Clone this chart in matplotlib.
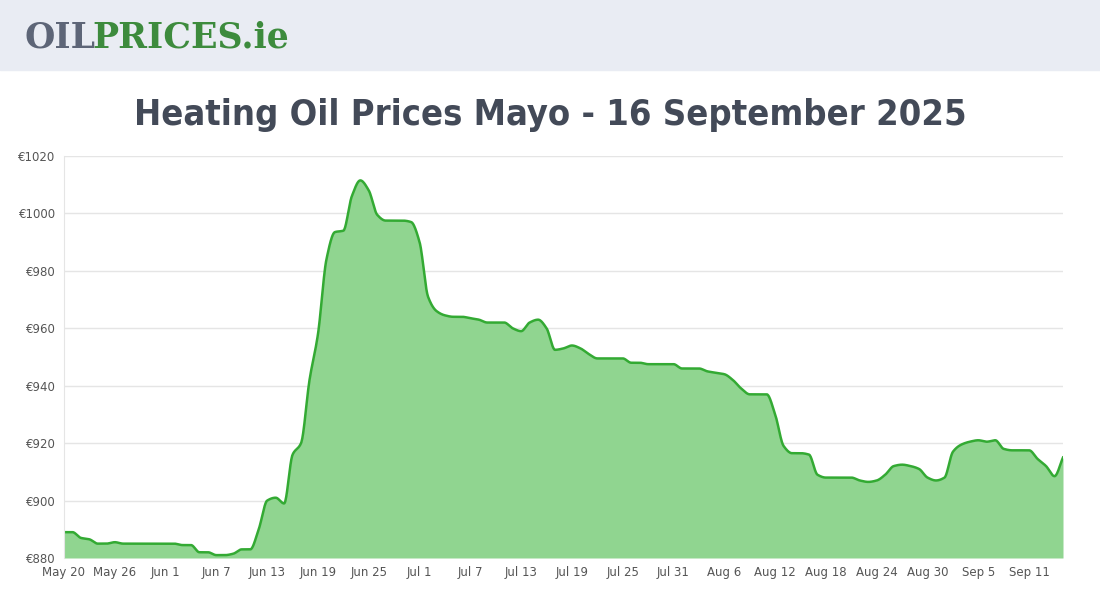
import numpy as np
import pandas as pd
from matplotlib import pyplot as plt

# ######### Data #########
start_date = "2025-05-20"
prices = [889, 889, 887, 886.5, 885, 885, 885.5, 885, 885, 885, 885, 885, 885, 885,
          884.5, 884.5, 882, 882, 881, 881, 881.5, 883, 883, 890, 900, 901, 899, 916,
          920, 942, 958, 984, 993.5, 994, 1006, 1011.5, 1008, 999.5, 997.5, 997.5,
          997.5, 997, 990, 971, 966, 964.5, 964, 964, 963.5, 963, 962, 962, 962, 960,
          959, 962, 963, 960, 952.5, 953, 954, 953, 951, 949.5, 949.5, 949.5, 949.5,
          948, 948, 947.5, 947.5, 947.5, 947.5, 946, 946, 946, 945, 944.5, 944, 942,
          939, 937, 937, 937, 930, 919, 916.5, 916.5, 916, 909, 908, 908, 908, 908,
          907, 906.5, 907, 909, 912, 912.5, 912, 911, 908, 907, 908, 917, 919.5,
          920.5, 921, 920.5, 921, 918, 917.5, 917.5, 917.5, 914.5, 912, 908.5, 915]
tick_labels = ["May 20", "May 26", "Jun 1", "Jun 7", "Jun 13", "Jun 19", "Jun 25",
               "Jul 1", "Jul 7", "Jul 13", "Jul 19", "Jul 25", "Jul 31", "Aug 6",
               "Aug 12", "Aug 18", "Aug 24", "Aug 30", "Sep 5", "Sep 11"]
y_ticks = [880, 900, 920, 940, 960, 980, 1000, 1020]

days = np.arange(len(prices))
vals = np.array(prices, dtype=float)

# smooth curve through the points (monotone cubic, like chart.js)
def monotone(x, y, n=20):
    d = np.diff(y) / np.diff(x)
    m = np.zeros_like(y)
    m[0], m[-1] = d[0], d[-1]
    for i in range(1, len(y) - 1):
        m[i] = 0 if d[i - 1] * d[i] <= 0 else 2 / (1 / d[i - 1] + 1 / d[i])
    xs, ys = [], []
    for i in range(len(x) - 1):
        t = np.linspace(0, 1, n, endpoint=False)
        h = x[i + 1] - x[i]
        h00 = 2 * t**3 - 3 * t**2 + 1
        h10 = t**3 - 2 * t**2 + t
        h01 = -2 * t**3 + 3 * t**2
        h11 = t**3 - t**2
        xs.append(x[i] + t * h)
        ys.append(h00 * y[i] + h10 * h * m[i] + h01 * y[i + 1] + h11 * h * m[i + 1])
    xs.append([x[-1]]); ys.append([y[-1]])
    return np.concatenate(xs), np.concatenate(ys)

sx, sy = monotone(days.astype(float), vals)

######### Figure #########
fig = plt.figure(figsize=(11, 6), dpi=100)
fig.patch.set_facecolor("white")

# header band with logo
fig.patches.append(plt.Rectangle((0, 530 / 600), 1, 70 / 600, transform=fig.transFigure,
                                 color="#e9ecf3", zorder=0))
fig.text(24 / 1100, 562 / 600, "OIL", fontsize=25, fontweight="bold", family="DejaVu Serif",
         color="#5d6577", va="center")
fig.text(92 / 1100, 562 / 600, "PRICES.ie", fontsize=25, fontweight="bold", family="DejaVu Serif",
         color="#3d8b3d", va="center")

fig.text(550 / 1100, 485 / 600, "Heating Oil Prices Mayo - 16 September 2025", fontsize=26,
         family="DejaVu Sans", fontstretch="condensed", fontweight="bold", color="#434a58",
         ha="center", va="center")

ax = fig.add_axes([64 / 1100, 42 / 600, 999 / 1100, 402 / 600])
ax.fill_between(sx, 880, sy, color="#90d590", lw=0)
ax.plot(sx, sy, color="#33aa33", lw=1.8)

ax.set_xlim(0, len(prices) - 1)
ax.set_ylim(880, 1020)
ax.set_yticks(y_ticks)
ax.set_yticklabels([f"€{v}" for v in y_ticks])
ax.set_xticks(np.arange(0, 6 * len(tick_labels), 6))
ax.set_xticklabels(tick_labels)
ax.tick_params(labelsize=8.5, colors="#555555", length=0, pad=6)
ax.grid(True, axis="y", color="#e5e5e5", lw=1)
ax.set_axisbelow(True)
for s in ax.spines.values():
    s.set_visible(False)
ax.spines["left"].set_visible(True)
ax.spines["left"].set_color("#e5e5e5")

fig.savefig("out.png", dpi=100)
